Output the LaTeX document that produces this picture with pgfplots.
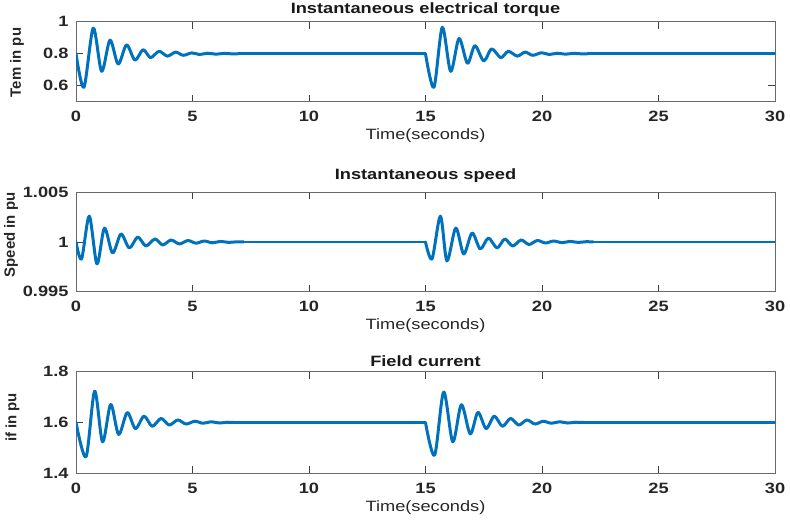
\documentclass[border=0pt]{standalone}
\usepackage{fontspec}
\setmainfont[FakeStretch=1.22]{Liberation Sans}
\newfontfamily\ylfont{Liberation Sans}
\usepackage{pgfplots}
\pgfplotsset{compat=1.18}
\definecolor{mblue}{RGB}{0,114,189}
\definecolor{axgray}{RGB}{105,105,105}

\pgfplotsset{
  sub/.style={
    scale only axis, width=699bp,
    xmin=0, xmax=30,
    xtick={0,5,...,30}, xticklabels={0,5,10,15,20,25,30},
    tick align=inside, major tick length=7bp,
    axis line style={axgray, line width=0.7bp},
    tick style={black!75, line width=0.7bp},
    ticklabel style={font=\fontsize{15}{18}\selectfont\bfseries, text=black!85},
    xticklabel style={yshift=-6bp},
    yticklabel style={xshift=-4bp},
    xlabel={Time(seconds)},
    every axis x label/.style={at={(axis description cs:0.5,0)}, anchor=center,
      yshift=-34bp, font=\fontsize{15}{18}\selectfont, text=black!85},
    every axis title/.style={at={(axis description cs:0.5,1)}, anchor=base,
      font=\fontsize{15}{18}\selectfont\bfseries, text=black!90},
  },
  ylab/.style 2 args={every axis y label/.style={
      at={([xshift=#1]axis description cs:0,#2)},
      rotate=90, anchor=center, font=\ylfont\fontsize{15}{18}\selectfont\bfseries,
      text=black!85}},
  curve/.style={mblue, line width=3bp, smooth, no markers, line cap=round, line join=round},
  flat/.style={mblue, line width=2.8bp, sharp plot, no markers, line cap=round},
}

\begin{document}
\begin{tikzpicture}
\useasboundingbox (0,0) rectangle (790bp,521bp);

% torque
\begin{axis}[sub, at={(76bp,419.3bp)}, anchor=south west, height=80bp,
  ymin=0.5, ymax=1, ytick={0.6,0.8,1}, yticklabels={0.6,0.8,1},
  title={Instantaneous electrical torque}, title style={yshift=8.4bp},
  ylab={-59bp}{0.49}, ylabel={Tem in pu}]
\addplot[curve] coordinates {
 (0,0.80) (0.34,0.59) (0.74,0.96) (1.1,0.69) (1.46,0.885) (1.81,0.735)
 (2.17,0.855) (2.53,0.76) (2.88,0.825) (3.2,0.775) (3.56,0.815) (3.92,0.785)
 (4.28,0.81) (4.6,0.79) (4.97,0.805) (5.3,0.795) (5.65,0.803) (6.0,0.797)
 (6.35,0.802) (6.7,0.799) (7.0,0.8)};
\addplot[flat] coordinates {(7.0,0.8) (15.0,0.8)};
\addplot[curve] coordinates {(15.0,0.8)
 (15.36,0.59) (15.72,0.965) (16.08,0.69) (16.44,0.895) (16.8,0.74) (17.12,0.85)
 (17.5,0.755) (17.84,0.83) (18.23,0.775) (18.55,0.815) (18.94,0.785) (19.27,0.81)
 (19.6,0.79) (19.98,0.806) (20.3,0.795) (20.65,0.803) (21.0,0.797) (21.35,0.802)
 (21.7,0.799) (22.0,0.8)};
\addplot[flat] coordinates {(22.0,0.8) (30,0.8)};
\end{axis}

% speed
\begin{axis}[sub, at={(76bp,229.3bp)}, anchor=south west, height=99.4bp,
  ymin=0.995, ymax=1.005, ytick={0.995,1,1.005}, yticklabels={0.995,1,1.005},
  title={Instantaneous speed}, title style={yshift=13bp},
  ylab={-65bp}{0.57}, ylabel={Speed in pu}]
\addplot[curve] coordinates {
 (0,1.0) (0.24,0.9983) (0.57,1.0026) (0.9,0.9978) (1.22,1.0014) (1.57,0.9989)
 (1.93,1.0008) (2.29,0.9994) (2.65,1.0005) (3.0,0.9996) (3.39,1.0003) (3.72,0.9997)
 (4.08,1.0002) (4.44,0.9998) (4.8,1.00015) (5.15,0.99988) (5.5,1.0001) (5.85,0.99992)
 (6.2,1.00006) (6.55,0.99996) (6.9,1.00002) (7.2,1.0)};
\addplot[flat] coordinates {(7.2,1.0) (15.0,1.0)};
\addplot[curve] coordinates {(15.0,1.0)
 (15.28,0.9983) (15.64,1.0026) (15.92,0.9981) (16.3,1.0014) (16.64,0.9988) (17.0,1.0009)
 (17.35,0.9993) (17.7,1.0004) (18.07,0.9994) (18.4,1.0003) (18.74,0.9996) (19.1,1.0002)
 (19.44,0.99975) (19.8,1.00015) (20.15,0.9999) (20.5,1.0001) (20.85,0.99993) (21.2,1.00006)
 (21.55,0.99996) (21.9,1.00003) (22.2,1.0)};
\addplot[flat] coordinates {(22.2,1.0) (30,1.0)};
\end{axis}

% field current
\begin{axis}[sub, at={(76bp,47.7bp)}, anchor=south west, height=101.6bp,
  ymin=1.4, ymax=1.8, ytick={1.4,1.6,1.8}, yticklabels={1.4,1.6,1.8},
  title={Field current}, title style={yshift=5bp},
  ylab={-63.5bp}{0.55}, ylabel={if in pu}]
\addplot[curve] coordinates {
 (0,1.6) (0.43,1.465) (0.8,1.723) (1.14,1.524) (1.49,1.671) (1.83,1.553)
 (2.2,1.639) (2.55,1.576) (2.92,1.625) (3.27,1.585) (3.65,1.616) (4.0,1.59)
 (4.37,1.61) (4.72,1.594) (5.1,1.605) (5.45,1.597) (5.8,1.603) (6.15,1.598)
 (6.5,1.601) (6.8,1.6)};
\addplot[flat] coordinates {(6.8,1.6) (15.0,1.6)};
\addplot[curve] coordinates {(15.0,1.6)
 (15.39,1.471) (15.78,1.72) (16.17,1.524) (16.54,1.67) (16.92,1.555) (17.25,1.64)
 (17.6,1.576) (17.95,1.625) (18.3,1.585) (18.65,1.616) (19.0,1.59) (19.35,1.61)
 (19.7,1.594) (20.05,1.605) (20.4,1.597) (20.75,1.603) (21.1,1.598) (21.45,1.601)
 (21.8,1.6)};
\addplot[flat] coordinates {(21.8,1.6) (30,1.6)};
\end{axis}
\end{tikzpicture}
\end{document}
